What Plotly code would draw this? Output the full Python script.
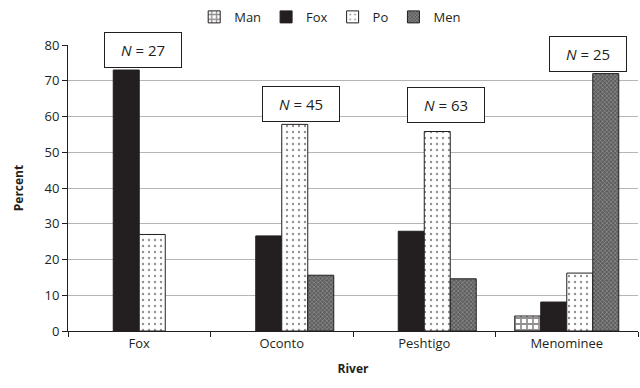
import plotly.graph_objects as go

rivers = ["Fox", "Oconto", "Peshtigo", "Menominee"]
series_names = ["Man", "Fox", "Po", "Men"]
man_vals = [None, None, None, 4.2]
fox_vals = [73, 26.6, 27.9, 8.1]
po_vals = [27, 57.8, 55.8, 16.2]
men_vals = [None, 15.6, 14.6, 72]
n_labels = ["27", "45", "63", "25"]
n_label_y = [78.6, 63.5, 63.2, 77.6]
n_label_shift = [4, 19, 22, 21]

values = [man_vals, fox_vals, po_vals, men_vals]
patterns = [
    dict(shape="+", fgcolor="#231f20", bgcolor="white", size=6, solidity=0.5),
    None,
    dict(shape=".", fgcolor="#231f20", bgcolor="white", size=6, solidity=0.12),
    dict(shape="x", fgcolor="#d8d8d8", bgcolor="#5e5e5e", size=3, solidity=0.35),
]
colors = ["white", "#231f20", "white", "#6e6e6e"]

fig = go.Figure()
for name, vals, pat, col in zip(series_names, values, patterns, colors):
    marker = dict(color=col, line=dict(color="#231f20", width=1))
    if pat is not None:
        marker["pattern"] = pat
    fig.add_trace(go.Bar(name=name, x=rivers, y=vals, marker=marker))

for r, lab, ly, sh in zip(rivers, n_labels, n_label_y, n_label_shift):
    fig.add_annotation(
        x=r, y=ly, xshift=sh, text="<i>N</i> = " + lab, showarrow=False,
        font=dict(size=15, color="#231f20"),
        bordercolor="#231f20", borderwidth=1, borderpad=7,
        bgcolor="white", width=62, height=20, align="center",
    )

fig.update_layout(
    width=640, height=388,
    margin=dict(l=68, r=2, t=45, b=57, autoexpand=False),
    paper_bgcolor="white", plot_bgcolor="white",
    font=dict(family="Open Sans, Liberation Sans, sans-serif", size=12, color="#231f20"),
    barmode="group", bargap=0.27, bargroupgap=0,
    legend=dict(orientation="h", x=0.46, xanchor="center", y=0.995, yanchor="top",
                yref="container", font=dict(size=13), itemwidth=30,
                traceorder="normal", tracegroupgap=0),
    showlegend=True,
)
fig.update_xaxes(
    showline=True, linecolor="#231f20", linewidth=1,
    ticks="outside", tickson="boundaries", ticklen=5, tickcolor="#231f20",
    tickfont=dict(size=13),
    title=dict(text="<b>River</b>", font=dict(size=12), standoff=14),
)
fig.update_yaxes(
    range=[0, 80], dtick=10,
    showline=True, linecolor="#231f20", linewidth=1,
    ticks="outside", ticklen=5, tickcolor="#231f20",
    showgrid=True, gridcolor="#b5b5b5", gridwidth=1,
    tickfont=dict(size=13), zeroline=False,
    title=dict(text="<b>Percent</b>", font=dict(size=12), standoff=18),
)

fig.write_html(
    "out.html",
    config={"displayModeBar": False},
    post_script="document.body.style.margin='0';document.body.style.overflow='hidden';",
)
